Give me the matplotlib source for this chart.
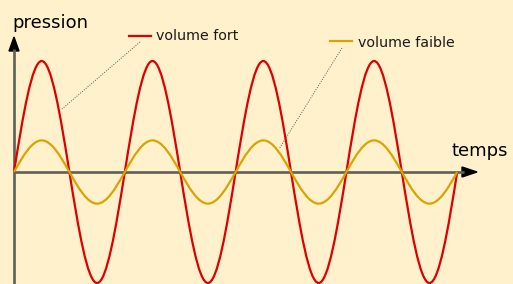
import matplotlib
matplotlib.use("Agg")
import matplotlib.pyplot as plt
from matplotlib.path import Path
from matplotlib.patches import PathPatch, Polygon

# key points of the two waves (time in periods, pressure normalised)
time_keys = [0, 0.25, 0.5, 0.75, 1.0, 1.25, 1.5, 1.75, 2.0,
             2.25, 2.5, 2.75, 3.0, 3.25, 3.5, 3.75, 4.0]
loud_keys = [0, 1, 0, -1, 0, 1, 0, -1, 0, 1, 0, -1, 0, 1, 0, -1, 0]
soft_keys = [0, 0.285, 0, -0.285, 0, 0.285, 0, -0.285, 0,
             0.285, 0, -0.285, 0, 0.285, 0, -0.285, 0]

labels = ["volume fort", "volume faible"]
axis_labels = ["pression", "temps"]

BG = "#fff1cc"
RED = "#dd0000"
YELLOW = "#d9a400"
AXIS = "#5f5f55"

W, H = 513, 284
X0, Y0 = 14, 172          # origin in pixels
PX_T, PX_P = 110.8, 111   # pixels per period / per unit of pressure


def wave_path(ts, ps):
    # quarter-wave cubic bezier segments through the key points
    verts = [(ts[0], ps[0])]
    codes = [Path.MOVETO]
    for i in range(len(ts) - 1):
        x0, y0, x1, y1 = ts[i], ps[i], ts[i + 1], ps[i + 1]
        dx, dy = x1 - x0, y1 - y0
        if y0 == 0:
            c1 = (x0 + 0.3261 * dx, y0 + 0.5122 * dy)
            c2 = (x0 + 0.6507 * dx, y1)
        else:
            c1 = (x0 + 0.3493 * dx, y0)
            c2 = (x0 + 0.6739 * dx, y0 + 0.4878 * dy)
        verts += [c1, c2, (x1, y1)]
        codes += [Path.CURVE4] * 3
    return Path(verts, codes)


def fig_xy(x, y):
    return x / W, 1 - y / H


fig = plt.figure(figsize=(W / 100, H / 100), dpi=100)
fig.patch.set_facecolor(BG)
ax = fig.add_axes([0, 0, 1, 1])
ax.set_facecolor(BG)
ax.set_xlim(-X0 / PX_T, (W - X0) / PX_T)
ax.set_ylim((Y0 - H) / PX_P, Y0 / PX_P)
ax.axis("off")

# axes lines
tf = fig.transFigure
ax.plot(*zip(fig_xy(X0, 290), fig_xy(X0, 49)), color=AXIS, lw=1.9,
        transform=tf, solid_capstyle="butt")
ax.plot(*zip(fig_xy(X0, Y0), fig_xy(464, Y0)), color=AXIS, lw=1.9,
        transform=tf, solid_capstyle="butt")
ax.add_patch(Polygon([fig_xy(X0, 37), fig_xy(X0 - 5, 51), fig_xy(X0 + 5, 51)],
                     closed=True, color="black", transform=tf))
ax.add_patch(Polygon([fig_xy(477, Y0), fig_xy(462, Y0 - 5), fig_xy(462, Y0 + 5)],
                     closed=True, color="black", transform=tf))

# waves
ax.add_patch(PathPatch(wave_path(time_keys, loud_keys), fill=False,
                       edgecolor=RED, lw=1.6, zorder=3))
ax.add_patch(PathPatch(wave_path(time_keys, soft_keys), fill=False,
                       edgecolor=YELLOW, lw=1.6, zorder=4))

# axis labels
fig.text(*fig_xy(12.5, 28), axis_labels[0], fontsize=13, color="black",
         ha="left", va="baseline")
fig.text(*fig_xy(452, 155.5), axis_labels[1], fontsize=13, color="black",
         ha="left", va="baseline")

# legend-like labels with leader lines
ax.plot(*zip(fig_xy(129, 35.7), fig_xy(151, 35.7)), color=RED, lw=1.6, transform=tf)
fig.text(*fig_xy(156, 40.5), labels[0], fontsize=10.3, ha="left", va="baseline",
         color="#1a1a1a")
ax.plot(*zip(fig_xy(140, 42), fig_xy(62, 109)), color="#555555", lw=0.7,
        ls=(0, (1, 1.5)), transform=tf)

ax.plot(*zip(fig_xy(330, 41.3), fig_xy(352, 41.3)), color=YELLOW, lw=1.6, transform=tf)
fig.text(*fig_xy(358, 47), labels[1], fontsize=10.3, ha="left", va="baseline",
         color="#1a1a1a")
ax.plot(*zip(fig_xy(342, 48), fig_xy(279, 149)), color="#555555", lw=0.7,
        ls=(0, (1, 1.5)), transform=tf)

fig.savefig("out.png", dpi=100, facecolor=BG)
